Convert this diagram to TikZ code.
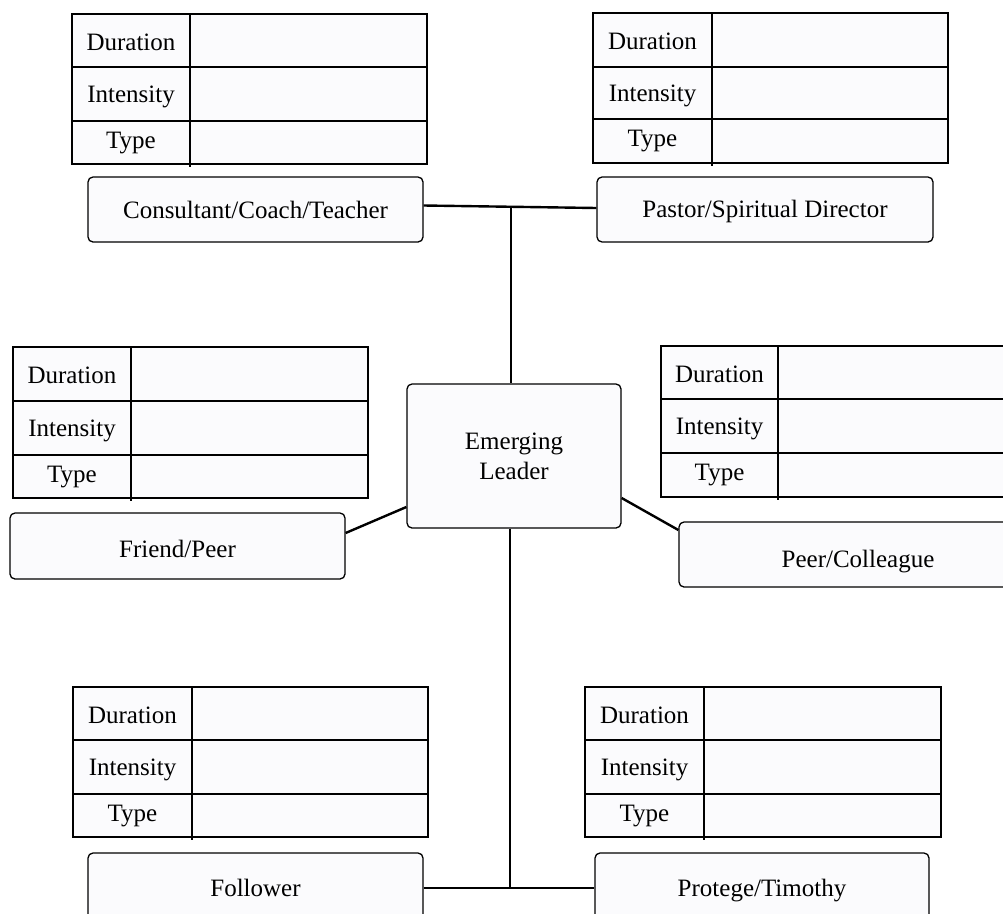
\documentclass[tikz,border=0pt]{standalone}
\usepackage{fontspec}
\setmainfont{Liberation Serif}
\definecolor{boxfill}{RGB}{251,251,253}
\tikzset{
  rbox/.style={draw=black, line width=1.3pt, rounded corners=5pt, fill=boxfill, inner sep=0pt, align=center, font=\fontsize{25}{30}\selectfont},
  onel/.style={text height=17pt, text depth=0pt},
  tline/.style={draw=black, line width=2.3pt},
  conn/.style={draw=black, line width=2.4pt},
  lbl/.style={inner sep=0pt, text height=17pt, text depth=0pt, font=\fontsize{25}{30}\selectfont}
}
% name, x0, y0, xc, x1, ya, yb, y1
\newcommand\infotable[8]{%
  \path[fill=boxfill] (#2,#3) rectangle (#5,#8);
  \draw[tline] (#2,#3) rectangle (#5,#8);
  \draw[tline] (#2,#6) -- (#5,#6);
  \draw[tline] (#2,#7) -- (#5,#7);
  \draw[tline] (#4,#3) -- (#4,#8+3);
  \node[lbl] (#1-d) at ({(#2+#4)/2},{(#3+#6)/2+1}) {Duration};
  \node[lbl] (#1-i) at ({(#2+#4)/2},{(#6+#7)/2}) {Intensity};
  \node[lbl] (#1-t) at ({(#2+#4)/2},{(#7+#8)/2-3}) {Type};
}
\begin{document}
\begin{tikzpicture}[x=1pt,y=-1pt]
\useasboundingbox (0,0) rectangle (1003,913);
\fill[white] (0,0) rectangle (1003,913);
\clip (0,0) rectangle (1003,913);

% tables
\infotable{ttl}{72}{14}{190}{427}{67}{121}{164}
\infotable{ttr}{593}{13}{712}{948}{67}{119}{163}
\infotable{tml}{13}{347}{131}{368}{401}{455}{498}
\infotable{tmr}{661}{346}{778}{1010}{399}{453}{497}
\infotable{tbl}{73}{687}{192}{428}{740}{794}{837}
\infotable{tbr}{585}{687}{704}{941}{740}{794}{837}

% boxes
\node[rbox, onel, minimum width=335pt, minimum height=65pt] (cct) at (255.5,209.5) {Consultant/Coach/Teacher};
\node[rbox, onel, minimum width=336pt, minimum height=65pt] (pas) at (765,209.5) {\raisebox{1pt}{Pastor/Spiritual Director}};
\node[rbox, minimum width=214pt, minimum height=144pt] (el) at (514,456) {Emerging\\Leader};
\node[rbox, onel, minimum width=335pt, minimum height=66pt] (fr) at (177.5,546) {\raisebox{-2.5pt}{Friend/Peer}};
\node[rbox, onel, minimum width=358pt, minimum height=65pt] (pc) at (858,554.5) {\raisebox{-4pt}{Peer/Colleague}};
\node[rbox, onel, minimum width=335pt, minimum height=70pt] (fol) at (255.5,888) {Follower};
\node[rbox, onel, minimum width=334pt, minimum height=70pt] (pro) at (762,888) {Protege/Timothy};

% connectors
\coordinate (jt) at (511,207);
\coordinate (jb) at (510,888);
\draw[conn] ([yshift=4pt]cct.east) -- ([yshift=1.5pt]pas.west);
\draw[conn] (jt) -- (jt |- el.north);
\draw[conn] (el.south -| jb) -- (jb);
\draw[conn] (fol.east) -- (pro.west);
\draw[conn] ([yshift=13pt]fr.east) -- ([yshift=-51pt]el.west);
\draw[conn] ([yshift=-42pt]el.east) -- ([yshift=24.5pt]pc.west);
\end{tikzpicture}
\end{document}
